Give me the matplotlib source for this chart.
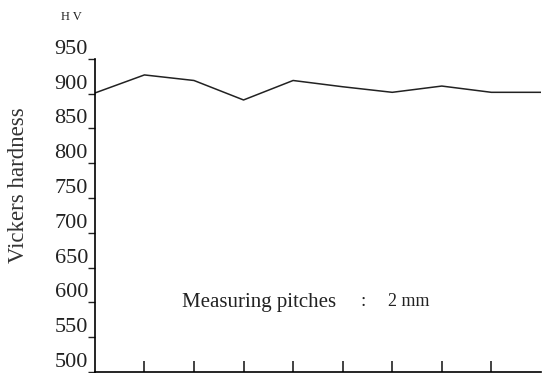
import matplotlib
matplotlib.use('Agg')
import matplotlib.pyplot as plt

# Measuring points (pitch 2 mm) and hardness values
positions = [0, 1, 2, 3, 4, 5, 6, 7, 8, 9]
hardness = [901, 927, 919, 891, 919, 910, 902, 911, 902, 902]
y_ticks = [500, 550, 600, 650, 700, 750, 800, 850, 900, 950]
x_ticks = [1, 2, 3, 4, 5, 6, 7, 8]

plt.rcParams['font.family'] = ['Liberation Serif', 'DejaVu Serif']

fig = plt.figure(figsize=(5.42, 3.73), dpi=100)
ax = fig.add_axes([0.175, 0.003, 0.823, 0.839])

ax.plot(positions, hardness, color='#222222', linewidth=1.1)

ax.set_xlim(0, 9)
ax.set_ylim(500, 950)
ax.set_yticks(y_ticks)
ax.set_yticklabels([str(v) for v in y_ticks], fontsize=16, va='bottom')
ax.set_xticks(x_ticks)
ax.set_xticklabels([])

ax.spines['top'].set_visible(False)
ax.spines['right'].set_visible(False)
ax.spines['left'].set_linewidth(1.2)
ax.spines['bottom'].set_linewidth(1.2)
ax.tick_params(axis='y', direction='out', length=5, width=1, pad=0, colors='#222222')
ax.tick_params(axis='x', direction='in', length=8, width=1.2, colors='#222222')

fig.text(0.034, 0.505, 'Vickers hardness', rotation=90, fontsize=16.5,
         ha='center', va='center', color='#333333')
fig.text(0.132, 0.955, 'H V', fontsize=9, ha='center', va='center', color='#222222')
fig.text(182 / 542, 1 - 302 / 373, 'Measuring pitches', fontsize=15,
         ha='left', va='center', color='#222222')
fig.text(363 / 542, 1 - 302 / 373, ':', fontsize=14,
         ha='center', va='center', color='#222222')
fig.text(388 / 542, 1 - 302 / 373, '2 mm', fontsize=13,
         ha='left', va='center', color='#222222')

fig.savefig('out.png', dpi=100)
